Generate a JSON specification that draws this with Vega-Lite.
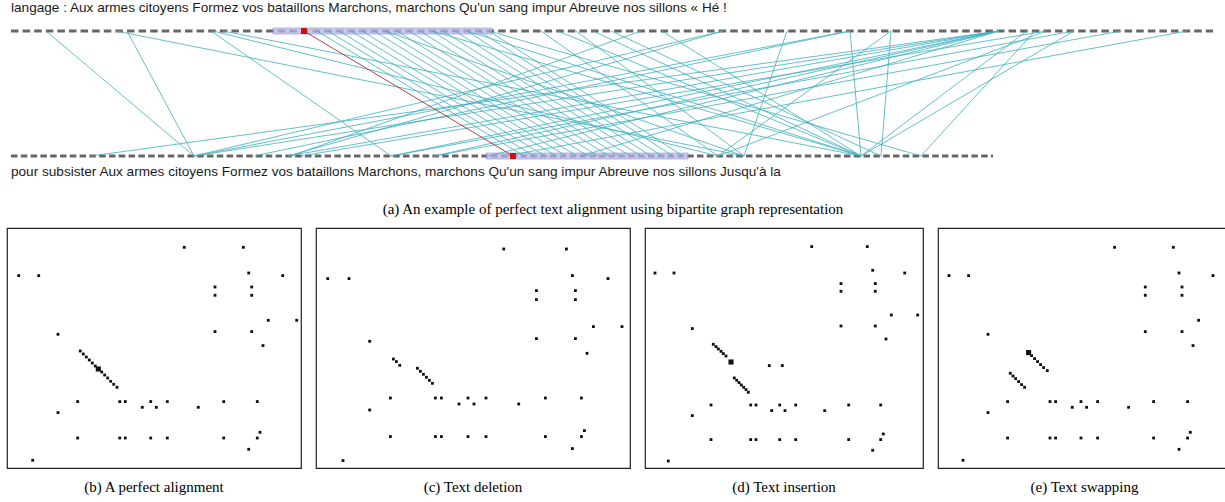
{
"$schema": "https://vega.github.io/schema/vega-lite/v6.json",
"padding": {"left": 6, "top": 0, "right": 0, "bottom": 0},
"background": "white",
"spacing": 9,
"config": {"view": {"stroke": null}, "axis": {"disable": true}, "legend": {"disable": true}},
"resolve": {"scale": {"x": "independent", "y": "independent", "size": "independent", "color": "independent"}},
"datasets": {
"rails": [
 {"rail": "source", "level": 1, "start": 10, "end": 1212, "sentence": "langage : Aux armes citoyens Formez vos bataillons Marchons, marchons Qu'un sang impur Abreuve nos sillons « Hé !"},
 {"rail": "target", "level": 0, "start": 10, "end": 992, "sentence": "pour subsister Aux armes citoyens Formez vos bataillons Marchons, marchons Qu'un sang impur Abreuve nos sillons Jusqu'à la"}
],
"blocks": [
 {"rail": "source", "level": 1, "start": 272, "end": 491},
 {"rail": "target", "level": 0, "start": 485, "end": 687}
],
"edges": [
 {"top": 45, "bottom": 193, "kind": "match"},
 {"top": 115, "bottom": 743, "kind": "match"},
 {"top": 126, "bottom": 193, "kind": "match"},
 {"top": 210, "bottom": 390, "kind": "match"},
 {"top": 212, "bottom": 717, "kind": "match"},
 {"top": 222, "bottom": 860, "kind": "match"},
 {"top": 316, "bottom": 523, "kind": "match"},
 {"top": 327, "bottom": 533, "kind": "match"},
 {"top": 338, "bottom": 544, "kind": "match"},
 {"top": 350, "bottom": 555, "kind": "match"},
 {"top": 361, "bottom": 565, "kind": "match"},
 {"top": 373, "bottom": 576, "kind": "match"},
 {"top": 384, "bottom": 587, "kind": "match"},
 {"top": 396, "bottom": 597, "kind": "match"},
 {"top": 408, "bottom": 608, "kind": "match"},
 {"top": 419, "bottom": 618, "kind": "match"},
 {"top": 431, "bottom": 629, "kind": "match"},
 {"top": 442, "bottom": 640, "kind": "match"},
 {"top": 454, "bottom": 650, "kind": "match"},
 {"top": 466, "bottom": 661, "kind": "match"},
 {"top": 478, "bottom": 672, "kind": "match"},
 {"top": 488, "bottom": 682, "kind": "match"},
 {"top": 384, "bottom": 743, "kind": "match"},
 {"top": 431, "bottom": 860, "kind": "match"},
 {"top": 466, "bottom": 860, "kind": "match"},
 {"top": 488, "bottom": 920, "kind": "match"},
 {"top": 540, "bottom": 717, "kind": "match"},
 {"top": 557, "bottom": 860, "kind": "match"},
 {"top": 575, "bottom": 743, "kind": "match"},
 {"top": 592, "bottom": 860, "kind": "match"},
 {"top": 610, "bottom": 880, "kind": "match"},
 {"top": 640, "bottom": 290, "kind": "match"},
 {"top": 661, "bottom": 860, "kind": "match"},
 {"top": 722, "bottom": 193, "kind": "match"},
 {"top": 722, "bottom": 287, "kind": "match"},
 {"top": 786, "bottom": 743, "kind": "match"},
 {"top": 849, "bottom": 193, "kind": "match"},
 {"top": 849, "bottom": 253, "kind": "match"},
 {"top": 849, "bottom": 860, "kind": "match"},
 {"top": 890, "bottom": 880, "kind": "match"},
 {"top": 890, "bottom": 717, "kind": "match"},
 {"top": 998, "bottom": 90, "kind": "match"},
 {"top": 998, "bottom": 193, "kind": "match"},
 {"top": 998, "bottom": 287, "kind": "match"},
 {"top": 998, "bottom": 433, "kind": "match"},
 {"top": 998, "bottom": 390, "kind": "match"},
 {"top": 998, "bottom": 580, "kind": "match"},
 {"top": 998, "bottom": 487, "kind": "match"},
 {"top": 1026, "bottom": 860, "kind": "match"},
 {"top": 1034, "bottom": 920, "kind": "match"},
 {"top": 1045, "bottom": 717, "kind": "match"},
 {"top": 1045, "bottom": 300, "kind": "match"},
 {"top": 1073, "bottom": 390, "kind": "match"},
 {"top": 1073, "bottom": 860, "kind": "match"},
 {"top": 1120, "bottom": 433, "kind": "match"},
 {"top": 1186, "bottom": 505, "kind": "match"},
 {"top": 303, "bottom": 512, "kind": "selected"}
],
"dots": [
 {"p":"b","x":177.3,"y":19.3},{"p":"b","x":236.3,"y":19.3},{"p":"b","x":11.7,"y":47.6},{"p":"b","x":31.7,"y":47.6},{"p":"b","x":241.7,"y":45},{"p":"b","x":275.7,"y":47.6},
 {"p":"b","x":208,"y":59},{"p":"b","x":244.7,"y":59},{"p":"b","x":208,"y":67.3},{"p":"b","x":244.7,"y":67.3},{"p":"b","x":261.3,"y":92.3},{"p":"b","x":289.7,"y":92.3},
 {"p":"b","x":51,"y":106.3},{"p":"b","x":208,"y":103.6},{"p":"b","x":244.7,"y":103.6},{"p":"b","x":256,"y":117.6},
 {"p":"b","x":73.3,"y":123},{"p":"b","x":76.3,"y":126},{"p":"b","x":79.3,"y":129},{"p":"b","x":82.3,"y":132},{"p":"b","x":85.3,"y":135},{"p":"b","x":88.3,"y":138},
 {"p":"b","x":94.7,"y":144},{"p":"b","x":97.7,"y":147},{"p":"b","x":100.7,"y":150},{"p":"b","x":103.7,"y":153.3},{"p":"b","x":106.7,"y":156.3},{"p":"b","x":110,"y":159.3},
 {"p":"b","x":70.7,"y":173.6},{"p":"b","x":112.7,"y":173.6},{"p":"b","x":118.3,"y":173.6},{"p":"b","x":143.7,"y":173.6},{"p":"b","x":160.3,"y":173.6},{"p":"b","x":216.7,"y":173.6},{"p":"b","x":250.3,"y":173.6},
 {"p":"b","x":135.3,"y":179.3},{"p":"b","x":149.3,"y":179.3},{"p":"b","x":191.3,"y":179.3},
 {"p":"b","x":51,"y":184.6},{"p":"b","x":253,"y":204.3},
 {"p":"b","x":70.7,"y":210},{"p":"b","x":112.7,"y":210},{"p":"b","x":118.3,"y":210},{"p":"b","x":143.7,"y":210},{"p":"b","x":160.3,"y":210},{"p":"b","x":216.7,"y":210},{"p":"b","x":250.3,"y":210},
 {"p":"b","x":241.7,"y":221.3},{"p":"b","x":25.7,"y":232.3},

 {"p":"c","x":187.7,"y":21},{"p":"c","x":250.4,"y":21},{"p":"c","x":11.7,"y":50.6},{"p":"c","x":33,"y":50.6},{"p":"c","x":256.4,"y":47.6},{"p":"c","x":292,"y":50.6},
 {"p":"c","x":220.4,"y":62.6},{"p":"c","x":259.4,"y":62.6},{"p":"c","x":220.4,"y":71.6},{"p":"c","x":259.4,"y":71.6},{"p":"c","x":277.4,"y":98.6},{"p":"c","x":306,"y":98.6},
 {"p":"c","x":53.7,"y":113.3},{"p":"c","x":220.4,"y":110.6},{"p":"c","x":259.4,"y":110.6},{"p":"c","x":271,"y":125.3},
 {"p":"c","x":77.4,"y":131},{"p":"c","x":80.4,"y":133.6},{"p":"c","x":83.7,"y":137.3},
 {"p":"c","x":101.4,"y":140.3},{"p":"c","x":104.4,"y":143.3},{"p":"c","x":107.4,"y":146.3},{"p":"c","x":110.4,"y":149.3},{"p":"c","x":113.4,"y":152.3},{"p":"c","x":116.4,"y":155.3},
 {"p":"c","x":74.4,"y":170},{"p":"c","x":119.4,"y":170},{"p":"c","x":125.4,"y":170},{"p":"c","x":152,"y":170},{"p":"c","x":170,"y":170},{"p":"c","x":229.4,"y":170},{"p":"c","x":265.4,"y":170},
 {"p":"c","x":143,"y":176},{"p":"c","x":158,"y":176},{"p":"c","x":202.7,"y":176},
 {"p":"c","x":53.7,"y":182},{"p":"c","x":268.4,"y":202.6},
 {"p":"c","x":74.4,"y":208.6},{"p":"c","x":119.4,"y":208.6},{"p":"c","x":125.4,"y":208.6},{"p":"c","x":152,"y":208.6},{"p":"c","x":170,"y":208.6},{"p":"c","x":229.4,"y":208.6},{"p":"c","x":265.4,"y":208.6},
 {"p":"c","x":256.4,"y":220.6},{"p":"c","x":27,"y":232.6},

 {"p":"d","x":166.7,"y":18.6},{"p":"d","x":222.3,"y":18.6},{"p":"d","x":10,"y":45},{"p":"d","x":29,"y":45},{"p":"d","x":227.7,"y":42.3},{"p":"d","x":259.7,"y":45},
 {"p":"d","x":196,"y":55.6},{"p":"d","x":230.3,"y":55.6},{"p":"d","x":196,"y":63.3},{"p":"d","x":230.3,"y":63.3},{"p":"d","x":246.3,"y":87},{"p":"d","x":272.7,"y":87},
 {"p":"d","x":47.3,"y":100.6},{"p":"d","x":196,"y":98},{"p":"d","x":230.3,"y":98},{"p":"d","x":241,"y":111},
 {"p":"d","x":68.3,"y":116.3},{"p":"d","x":71,"y":118.6},{"p":"d","x":73.3,"y":121},{"p":"d","x":76,"y":123.3},{"p":"d","x":78.3,"y":125.6},{"p":"d","x":81,"y":128},
 {"p":"d","x":89.3,"y":150},{"p":"d","x":91.7,"y":152.3},{"p":"d","x":94,"y":154.6},{"p":"d","x":96.3,"y":157},{"p":"d","x":98.7,"y":159.3},{"p":"d","x":101,"y":161.6},{"p":"d","x":103.3,"y":164.3},
 {"p":"d","x":124.3,"y":137.6},{"p":"d","x":137.3,"y":137.6},
 {"p":"d","x":66,"y":177},{"p":"d","x":105.7,"y":177},{"p":"d","x":111,"y":177},{"p":"d","x":134.7,"y":177},{"p":"d","x":150.7,"y":177},{"p":"d","x":203.7,"y":177},{"p":"d","x":235.7,"y":177},
 {"p":"d","x":126.7,"y":182.6},{"p":"d","x":140,"y":182.6},{"p":"d","x":179.7,"y":182.6},
 {"p":"d","x":47.3,"y":187.6},{"p":"d","x":238.3,"y":206},
 {"p":"d","x":66,"y":211.6},{"p":"d","x":105.7,"y":211.6},{"p":"d","x":111,"y":211.6},{"p":"d","x":134.7,"y":211.6},{"p":"d","x":150.7,"y":211.6},{"p":"d","x":203.7,"y":211.6},{"p":"d","x":235.7,"y":211.6},
 {"p":"d","x":227.7,"y":222.3},{"p":"d","x":23.3,"y":233},

 {"p":"e","x":176.6,"y":19.3},{"p":"e","x":235.3,"y":19.3},{"p":"e","x":11,"y":47.6},{"p":"e","x":30.6,"y":47.6},{"p":"e","x":241,"y":45},{"p":"e","x":275,"y":47.6},
 {"p":"e","x":207.3,"y":59},{"p":"e","x":244,"y":59},{"p":"e","x":207.3,"y":67.3},{"p":"e","x":244,"y":67.3},{"p":"e","x":260.6,"y":92.3},{"p":"e","x":288.6,"y":92.3},
 {"p":"e","x":50,"y":106.3},{"p":"e","x":207.3,"y":103.6},{"p":"e","x":244,"y":103.6},{"p":"e","x":255,"y":117.6},
 {"p":"e","x":93.6,"y":127.6},{"p":"e","x":96.6,"y":130.6},{"p":"e","x":99.6,"y":133.6},{"p":"e","x":102.6,"y":136.6},{"p":"e","x":105.6,"y":139.6},{"p":"e","x":109.3,"y":142.6},
 {"p":"e","x":72.3,"y":145.3},{"p":"e","x":75,"y":148},{"p":"e","x":77.6,"y":150.6},{"p":"e","x":80.6,"y":153.6},{"p":"e","x":83.6,"y":156.6},{"p":"e","x":86.6,"y":159.3},
 {"p":"e","x":69.6,"y":173.6},{"p":"e","x":112,"y":173.6},{"p":"e","x":117.6,"y":173.6},{"p":"e","x":143,"y":173.6},{"p":"e","x":159.6,"y":173.6},{"p":"e","x":215.6,"y":173.6},{"p":"e","x":249.6,"y":173.6},
 {"p":"e","x":134.3,"y":179.3},{"p":"e","x":148.6,"y":179.3},{"p":"e","x":190.6,"y":179.3},
 {"p":"e","x":50,"y":184.6},{"p":"e","x":252.3,"y":204.3},
 {"p":"e","x":69.6,"y":210},{"p":"e","x":112,"y":210},{"p":"e","x":117.6,"y":210},{"p":"e","x":143,"y":210},{"p":"e","x":159.6,"y":210},{"p":"e","x":215.6,"y":210},{"p":"e","x":249.6,"y":210},
 {"p":"e","x":241,"y":221.3},{"p":"e","x":25,"y":232.3}
],
"picked": [
 {"p":"b","x":91.3,"y":141},
 {"p":"d","x":86,"y":134},
 {"p":"e","x":90.6,"y":124.6}
],
"caption": [{"text": "(a) An example of perfect text alignment using bipartite graph representation"}]
},
"vconcat": [
 {
  "width": 1219, "height": 218,
  "layer": [
   {
    "data": {"name": "rails"},
    "mark": {"type": "rule", "strokeWidth": 2.8, "color": "#666666"},
    "encoding": {
     "x": {"field": "start", "type": "quantitative", "scale": {"domain": [6, 1225], "nice": false, "zero": false}},
     "x2": {"field": "end"},
     "y": {"field": "level", "type": "quantitative", "scale": {"domain": [-0.496, 1.248], "nice": false, "zero": false}},
     "strokeDash": {"field": "rail", "type": "nominal", "scale": {"domain": ["source", "target"], "range": [[7.5, 4.1], [6.5, 3.3]]}, "legend": null}
    }
   },
   {
    "data": {"name": "blocks"},
    "mark": {"type": "rect", "height": 6, "color": "#b9b5ea", "opacity": 0.75, "stroke": "#8e8ad0", "strokeWidth": 0.8},
    "encoding": {
     "x": {"field": "start", "type": "quantitative", "scale": {"domain": [6, 1225], "nice": false, "zero": false}},
     "x2": {"field": "end"},
     "y": {"field": "level", "type": "quantitative", "scale": {"domain": [-0.496, 1.248], "nice": false, "zero": false}}
    }
   },
   {
    "data": {"name": "edges"},
    "mark": {"type": "rule", "strokeWidth": 0.9, "opacity": 0.9},
    "encoding": {
     "x": {"field": "top", "type": "quantitative", "scale": {"domain": [6, 1225], "nice": false, "zero": false}},
     "x2": {"field": "bottom"},
     "y": {"datum": 1, "type": "quantitative", "scale": {"domain": [-0.496, 1.248], "nice": false, "zero": false}},
     "y2": {"datum": 0},
     "color": {"field": "kind", "type": "nominal", "scale": {"domain": ["match", "selected"], "range": ["#3fb1c0", "#a01a20"]}, "legend": null}
    }
   },
   {
    "data": {"name": "edges"},
    "transform": [{"filter": "datum.kind == 'selected'"}],
    "mark": {"type": "square", "size": 36, "color": "#d01010", "opacity": 1},
    "encoding": {
     "x": {"field": "top", "type": "quantitative", "scale": {"domain": [6, 1225], "nice": false, "zero": false}},
     "y": {"datum": 1, "type": "quantitative", "scale": {"domain": [-0.496, 1.248], "nice": false, "zero": false}}
    }
   },
   {
    "data": {"name": "edges"},
    "transform": [{"filter": "datum.kind == 'selected'"}],
    "mark": {"type": "square", "size": 36, "color": "#d01010", "opacity": 1},
    "encoding": {
     "x": {"field": "bottom", "type": "quantitative", "scale": {"domain": [6, 1225], "nice": false, "zero": false}},
     "y": {"datum": 0, "type": "quantitative", "scale": {"domain": [-0.496, 1.248], "nice": false, "zero": false}}
    }
   },
   {
    "data": {"name": "rails"},
    "transform": [{"filter": "datum.rail == 'source'"}],
    "mark": {"type": "text", "align": "left", "baseline": "middle", "dy": -23, "font": "Liberation Sans", "fontSize": 13.6, "color": "#1a1a1a"},
    "encoding": {
     "x": {"field": "start", "type": "quantitative", "scale": {"domain": [6, 1225], "nice": false, "zero": false}},
     "y": {"field": "level", "type": "quantitative", "scale": {"domain": [-0.496, 1.248], "nice": false, "zero": false}},
     "text": {"field": "sentence"}
    }
   },
   {
    "data": {"name": "rails"},
    "transform": [{"filter": "datum.rail == 'target'"}],
    "mark": {"type": "text", "align": "left", "baseline": "middle", "dy": 16, "font": "Liberation Sans", "fontSize": 13.6, "color": "#1a1a1a"},
    "encoding": {
     "x": {"field": "start", "type": "quantitative", "scale": {"domain": [6, 1225], "nice": false, "zero": false}},
     "y": {"field": "level", "type": "quantitative", "scale": {"domain": [-0.496, 1.248], "nice": false, "zero": false}},
     "text": {"field": "sentence"}
    }
   },
   {
    "data": {"name": "caption"},
    "mark": {"type": "text", "align": "center", "baseline": "middle", "font": "Liberation Serif", "fontSize": 15, "color": "#000"},
    "encoding": {
     "x": {"datum": 612, "type": "quantitative", "scale": {"domain": [6, 1225], "nice": false, "zero": false}},
     "y": {"datum": -0.424, "type": "quantitative", "scale": {"domain": [-0.496, 1.248], "nice": false, "zero": false}},
     "text": {"field": "text"}
    }
   }
  ]
 },
 {
  "spacing": 13,
  "resolve": {"scale": {"x": "independent", "y": "independent"}},
  "hconcat": [
   {
    "width": 294, "height": 240,
    "view": {"stroke": "#222", "strokeWidth": 1.2},
    "title": {"text": "(b) A perfect alignment", "orient": "bottom", "anchor": "middle", "font": "Liberation Serif", "fontSize": 15, "fontWeight": "normal", "color": "#000", "offset": 12},
    "layer": [
     {"data": {"name": "dots"}, "transform": [{"filter": "datum.p == 'b'"}],
      "mark": {"type": "square", "size": 8, "color": "#111", "opacity": 1},
      "encoding": {"x": {"field": "x", "type": "quantitative", "scale": {"domain": [0, 294], "nice": false, "zero": false}},
                   "y": {"field": "y", "type": "quantitative", "scale": {"domain": [0, 240], "nice": false, "zero": false, "reverse": true}}}},
     {"data": {"name": "picked"}, "transform": [{"filter": "datum.p == 'b'"}],
      "mark": {"type": "square", "size": 26, "color": "#111", "opacity": 1},
      "encoding": {"x": {"field": "x", "type": "quantitative", "scale": {"domain": [0, 294], "nice": false, "zero": false}},
                   "y": {"field": "y", "type": "quantitative", "scale": {"domain": [0, 240], "nice": false, "zero": false, "reverse": true}}}}
    ]
   },
   {
    "width": 314, "height": 240,
    "view": {"stroke": "#222", "strokeWidth": 1.2},
    "title": {"text": "(c) Text deletion", "orient": "bottom", "anchor": "middle", "font": "Liberation Serif", "fontSize": 15, "fontWeight": "normal", "color": "#000", "offset": 12},
    "layer": [
     {"data": {"name": "dots"}, "transform": [{"filter": "datum.p == 'c'"}],
      "mark": {"type": "square", "size": 8, "color": "#111", "opacity": 1},
      "encoding": {"x": {"field": "x", "type": "quantitative", "scale": {"domain": [0, 314], "nice": false, "zero": false}},
                   "y": {"field": "y", "type": "quantitative", "scale": {"domain": [0, 240], "nice": false, "zero": false, "reverse": true}}}}
    ]
   },
   {
    "width": 278, "height": 240,
    "view": {"stroke": "#222", "strokeWidth": 1.2},
    "title": {"text": "(d) Text insertion", "orient": "bottom", "anchor": "middle", "font": "Liberation Serif", "fontSize": 15, "fontWeight": "normal", "color": "#000", "offset": 12},
    "layer": [
     {"data": {"name": "dots"}, "transform": [{"filter": "datum.p == 'd'"}],
      "mark": {"type": "square", "size": 8, "color": "#111", "opacity": 1},
      "encoding": {"x": {"field": "x", "type": "quantitative", "scale": {"domain": [0, 278], "nice": false, "zero": false}},
                   "y": {"field": "y", "type": "quantitative", "scale": {"domain": [0, 240], "nice": false, "zero": false, "reverse": true}}}},
     {"data": {"name": "picked"}, "transform": [{"filter": "datum.p == 'd'"}],
      "mark": {"type": "square", "size": 26, "color": "#111", "opacity": 1},
      "encoding": {"x": {"field": "x", "type": "quantitative", "scale": {"domain": [0, 278], "nice": false, "zero": false}},
                   "y": {"field": "y", "type": "quantitative", "scale": {"domain": [0, 240], "nice": false, "zero": false, "reverse": true}}}}
    ]
   },
   {
    "width": 293, "height": 240,
    "view": {"stroke": "#222", "strokeWidth": 1.2},
    "title": {"text": "(e) Text swapping", "orient": "bottom", "anchor": "middle", "font": "Liberation Serif", "fontSize": 15, "fontWeight": "normal", "color": "#000", "offset": 12},
    "layer": [
     {"data": {"name": "dots"}, "transform": [{"filter": "datum.p == 'e'"}],
      "mark": {"type": "square", "size": 8, "color": "#111", "opacity": 1},
      "encoding": {"x": {"field": "x", "type": "quantitative", "scale": {"domain": [0, 293], "nice": false, "zero": false}},
                   "y": {"field": "y", "type": "quantitative", "scale": {"domain": [0, 240], "nice": false, "zero": false, "reverse": true}}}},
     {"data": {"name": "picked"}, "transform": [{"filter": "datum.p == 'e'"}],
      "mark": {"type": "square", "size": 26, "color": "#111", "opacity": 1},
      "encoding": {"x": {"field": "x", "type": "quantitative", "scale": {"domain": [0, 293], "nice": false, "zero": false}},
                   "y": {"field": "y", "type": "quantitative", "scale": {"domain": [0, 240], "nice": false, "zero": false, "reverse": true}}}}
    ]
   }
  ]
 }
]
}
